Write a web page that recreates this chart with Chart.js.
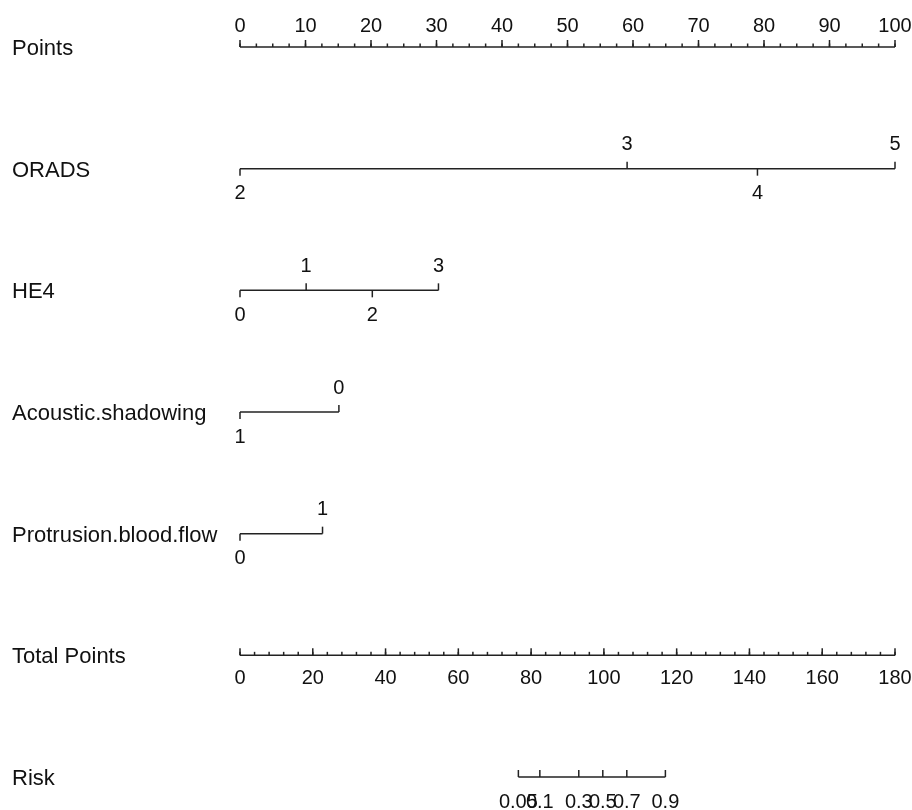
<!DOCTYPE html>
<html>
<head>
<meta charset="utf-8">
<script src="https://cdn.jsdelivr.net/npm/chart.js@4.4.1/dist/chart.umd.min.js"></script>
<style>
  html, body { margin: 0; padding: 0; background: #fff; }
  #nomo { display: block; }
</style>
</head>
<body>
<canvas id="nomo" width="912" height="810"></canvas>
<script>
// Row titles, top to bottom
const rowNames = ['Points', 'ORADS', 'HE4', 'Acoustic.shadowing', 'Protrusion.blood.flow', 'Total Points', 'Risk'];

// Points scale (0-100), labelled every 10, minor ticks every 2.5
const pointsLabels = [0, 10, 20, 30, 40, 50, 60, 70, 80, 90, 100];
const pointsMinorStep = 2.5;

// Predictor levels and the points each one is worth
const oradsLevels = ['2', '3', '4', '5'];
const oradsPoints = [0, 59.1, 79.0, 100];
const he4Levels = ['0', '1', '2', '3'];
const he4Points = [0, 10.1, 20.2, 30.3];
const shadowLevels = ['1', '0'];
const shadowPoints = [0, 15.1];
const flowLevels = ['0', '1'];
const flowPoints = [0, 12.6];

// Total points scale (0-180), labelled every 20, minor ticks every 4
const totalLabels = [0, 20, 40, 60, 80, 100, 120, 140, 160, 180];
const totalMinorStep = 4;

// Risk ticks and where they sit on the total points scale
const riskLabels = ['0.05', '0.1', '0.3', '0.5', '0.7', '0.9'];
const riskAtTotal = [76.5, 82.4, 93.1, 99.7, 106.3, 116.9];

const predictors = [
  { row: 1, levels: oradsLevels, pts: oradsPoints },
  { row: 2, levels: he4Levels, pts: he4Points },
  { row: 3, levels: shadowLevels, pts: shadowPoints },
  { row: 4, levels: flowLevels, pts: flowPoints }
];

const LINE = '#222';
const TEXT = '#111';
const NAME_FONT = '22px "Liberation Sans", Arial, sans-serif';
const TICK_FONT = '20px "Liberation Sans", Arial, sans-serif';

function segment(x0, x1, row, axis) {
  return {
    data: [{ x: x0, y: row }, { x: x1, y: row }],
    xAxisID: axis,
    showLine: true,
    borderColor: LINE,
    borderWidth: 1.5,
    pointRadius: 0,
    clip: false
  };
}

const datasets = [
  segment(pointsLabels[0], pointsLabels[pointsLabels.length - 1], 0, 'x'),
  ...predictors.map(p => segment(p.pts[0], p.pts[p.pts.length - 1], p.row, 'x')),
  segment(totalLabels[0], totalLabels[totalLabels.length - 1], 5, 'xt'),
  segment(riskAtTotal[0], riskAtTotal[riskAtTotal.length - 1], 6, 'xt')
];

// Tick marks and tick text, placed through the chart's own scales
const nomogramTicks = {
  id: 'nomogramTicks',
  afterDatasetsDraw(chart) {
    const ctx = chart.ctx;
    const sx = chart.scales.x, st = chart.scales.xt, sy = chart.scales.y;
    ctx.save();
    ctx.strokeStyle = LINE;
    ctx.lineWidth = 1.5;
    ctx.fillStyle = TEXT;
    ctx.textBaseline = 'middle';

    const tick = (px, py, len) => {
      ctx.beginPath();
      ctx.moveTo(px, py);
      ctx.lineTo(px, py + len);
      ctx.stroke();
    };

    // row titles
    ctx.font = NAME_FONT;
    ctx.textAlign = 'left';
    rowNames.forEach((name, i) => {
      ctx.fillText(name, 12, sy.getPixelForValue(i) + 2);
    });

    ctx.font = TICK_FONT;
    ctx.textAlign = 'center';

    // Points axis: ticks up, labels above
    let y0 = sy.getPixelForValue(0);
    for (let v = pointsLabels[0]; v <= pointsLabels[pointsLabels.length - 1] + 1e-9; v += pointsMinorStep) {
      tick(sx.getPixelForValue(v), y0, -3.5);
    }
    pointsLabels.forEach(v => {
      const px = sx.getPixelForValue(v);
      tick(px, y0, -7);
      ctx.fillText(String(v), px, y0 - 21);
    });

    // predictors: labels alternate below / above along the axis
    predictors.forEach(p => {
      const py = sy.getPixelForValue(p.row);
      p.pts.forEach((v, i) => {
        const px = sx.getPixelForValue(v);
        const up = i % 2 === 1;
        tick(px, py, up ? -7 : 7);
        ctx.fillText(p.levels[i], px, up ? py - 24 : py + 25);
      });
    });

    // Total points axis: ticks up, labels below
    y0 = sy.getPixelForValue(5);
    for (let v = totalLabels[0]; v <= totalLabels[totalLabels.length - 1] + 1e-9; v += totalMinorStep) {
      tick(st.getPixelForValue(v), y0, -3.5);
    }
    totalLabels.forEach(v => {
      const px = st.getPixelForValue(v);
      tick(px, y0, -7);
      ctx.fillText(String(v), px, y0 + 23);
    });

    // Risk axis
    y0 = sy.getPixelForValue(6);
    riskAtTotal.forEach((v, i) => {
      const px = st.getPixelForValue(v);
      tick(px, y0, -7);
      ctx.fillText(riskLabels[i], px, y0 + 25);
    });

    ctx.restore();
  }
};

new Chart(document.getElementById('nomo').getContext('2d'), {
  type: 'scatter',
  data: { datasets: datasets },
  options: {
    responsive: false,
    animation: false,
    devicePixelRatio: 1,
    layout: { padding: { left: 240, right: 17, top: 47, bottom: 33 } },
    plugins: { legend: { display: false }, tooltip: { enabled: false } },
    scales: {
      x: { type: 'linear', min: 0, max: 100, display: false },
      xt: { type: 'linear', axis: 'x', min: 0, max: 180, display: false },
      y: { type: 'linear', min: 0, max: 6, reverse: true, display: false }
    }
  },
  plugins: [nomogramTicks]
});
</script>
</body>
</html>
